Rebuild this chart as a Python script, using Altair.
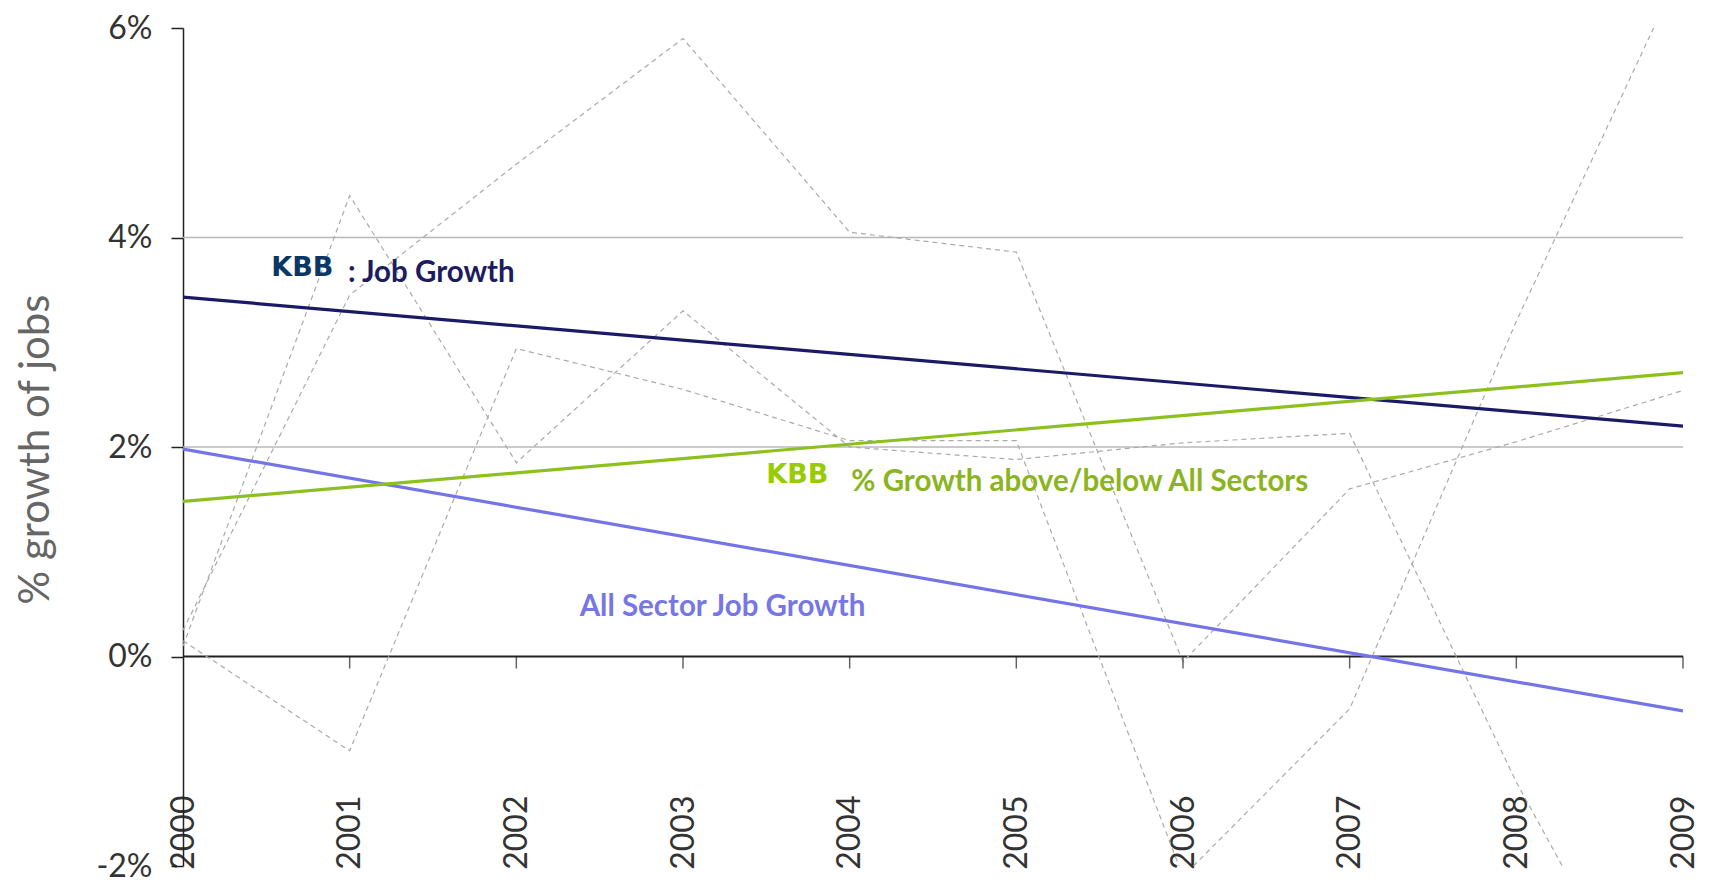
import altair as alt
import pandas as pd

# ---- data ----
years = [2000, 2001, 2002, 2003, 2004, 2005, 2006, 2007, 2008, 2009]
kbb_growth = [0.25, 3.45, 4.70, 5.90, 4.05, 3.86, -0.05, 1.60, 2.05, 2.54]
all_growth = [0.10, 4.40, 1.85, 3.30, 2.00, 1.88, 2.04, 2.13, -1.20, -4.10]
diff_growth = [0.15, -0.90, 2.94, 2.55, 2.06, 2.06, -2.10, -0.50, 3.20, 6.60]

trend_years = [2000, 2009]
kbb_trend = [3.43, 2.20]
all_trend = [1.98, -0.52]
diff_trend = [1.48, 2.71]

y_ticks = [-2, 0, 2, 4, 6]
grid_values = [2, 4]
tick_years = years[1:]

ann_text = ["KBB", ": Job  Growth", "KBB", "% Growth above/below All Sectors", "All Sector Job Growth"]
ann_year = [2000.53, 2000.99, 2003.50, 2004.01, 2002.38]
ann_pct = [3.71, 3.66, 1.73, 1.67, 0.47]
ann_color = ["#0a3766", "#1c1c5e", "#99cc00", "#8ab520", "#7676e4"]
ann_logo = [True, False, True, False, False]

# ---- tables ----
rows = []
for name, vals in [("KBB", kbb_growth), ("All", all_growth), ("Diff", diff_growth)]:
    for yr, v in zip(years, vals):
        rows.append({"series": name, "year": yr, "pct": v})
dashed_df = pd.DataFrame(rows)

trows = []
for name, vals in [("KBB trend", kbb_trend), ("All trend", all_trend), ("Diff trend", diff_trend)]:
    for yr, v in zip(trend_years, vals):
        trows.append({"series": name, "year": yr, "pct": v})
trend_df = pd.DataFrame(trows)

ann_df = pd.DataFrame({"text": ann_text, "year": ann_year, "pct": ann_pct,
                       "color": ann_color, "logo": ann_logo})

x_scale = alt.Scale(domain=[2000, 2009], nice=False, zero=False)
y_scale = alt.Scale(domain=[-2, 6], nice=False, zero=False)

x_axis = alt.Axis(values=years, format="d", labelAngle=-90, orient="bottom",
                  offset=-71, domain=False, ticks=False, tickSize=0,
                  labelPadding=0, grid=False, labelFont="Lato",
                  labelFontSize=32, labelColor="#333333", title=None,
                  labelFlush=False, labelOverlap=False, labelBound=False)

y_axis = alt.Axis(values=y_ticks, labelExpr="datum.value + '%'", grid=False,
                  domainColor="#222222", domainWidth=1.5, tickColor="#222222",
                  tickSize=12, tickWidth=1.5, labelPadding=19, labelFont="Lato",
                  labelFontSize=32, labelColor="#333333",
                  title="% growth of jobs", titleFont="Lato", titleFontSize=42,
                  titleFontWeight="normal", titleColor="#666666",
                  titleX=-148, titleY=421, titleAngle=270,
                  titleAlign="center", titleBaseline="middle")


def X(field):
    return alt.X(field, scale=x_scale, axis=x_axis)


def Y(field):
    return alt.Y(field, scale=y_scale, axis=y_axis)


grid = alt.Chart(pd.DataFrame({"pct": grid_values})).mark_rule(
    color="#b8b8b8", strokeWidth=1.5).encode(y=Y("pct:Q"))

zero = alt.Chart(pd.DataFrame({"pct": [0]})).mark_rule(
    color="#222222", strokeWidth=2).encode(y=Y("pct:Q"))

dashed = alt.Chart(dashed_df).mark_line(
    strokeDash=[5, 4], strokeWidth=1.2, color="#aaaaaa", clip=True).encode(
    x=X("year:Q"), y=Y("pct:Q"), detail="series:N")

trends = alt.Chart(trend_df).mark_line(strokeWidth=3.2, clip=True).encode(
    x=X("year:Q"), y=Y("pct:Q"),
    color=alt.Color("series:N",
                    scale=alt.Scale(domain=["KBB trend", "All trend", "Diff trend"],
                                    range=["#1b1a66", "#7474e8", "#8cc01e"]),
                    legend=None),
    detail="series:N")

ticks = alt.Chart(pd.DataFrame({"year": tick_years, "pct": [0] * len(tick_years)})).mark_tick(
    orient="vertical", size=12, thickness=1.5, color="#222222", yOffset=6).encode(
    x=X("year:Q"), y=Y("pct:Q"))

logos = alt.Chart(ann_df).transform_filter("datum.logo").mark_text(
    align="left", baseline="middle", font="DejaVu Sans", fontWeight="bold",
    fontSize=27).encode(
    x=X("year:Q"), y=Y("pct:Q"), text="text:N",
    color=alt.Color("color:N", scale=None))

labels = alt.Chart(ann_df).transform_filter("!datum.logo").mark_text(
    align="left", baseline="middle", font="Lato", fontWeight="bold",
    fontSize=29.5).encode(
    x=X("year:Q"), y=Y("pct:Q"), text="text:N",
    color=alt.Color("color:N", scale=None))

chart = alt.layer(grid, zero, dashed, trends, ticks, logos, labels).properties(
    width=1500, height=838,
    padding={"left": 175, "top": 20, "right": 18, "bottom": 16},
    autosize=alt.AutoSizeParams(type="none"),
    background="white",
).configure_view(stroke=None)

chart.save("out.html", embed_options={"renderer": "svg", "actions": False})
